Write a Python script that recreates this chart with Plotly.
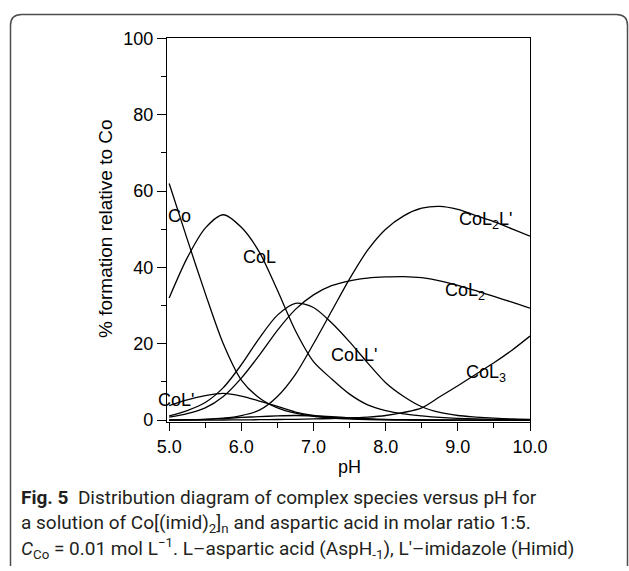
import plotly.graph_objects as go

pH = [5.0, 5.25, 5.5, 5.75, 6.0, 6.25, 6.5, 6.75, 7.0, 7.25, 7.5,
      7.75, 8.0, 8.25, 8.5, 8.75, 9.0, 9.25, 9.5, 9.75, 10.0]

Co = [62, 47.4, 33.2, 20, 10.5, 5.8, 3.2, 1.8, 1.0, 0.55, 0.3,
      0.15, 0.08, 0.04, 0.02, 0.01, 0, 0, 0, 0, 0]
CoL = [32, 42.5, 50.3, 53.8, 50.5, 44, 34, 23.4, 15.3, 10.8, 6.8,
       4.0, 2.5, 1.6, 1.1, 0.7, 0.45, 0.3, 0.2, 0.12, 0.08]
CoL_p = [3.8, 5.3, 6.4, 7.0, 6.3, 5.0, 3.6, 2.1, 1.2, 0.7, 0.4,
         0.2, 0.1, 0.05, 0.02, 0.01, 0, 0, 0, 0, 0]
CoLL_p = [1.1, 2.5, 4.6, 8.5, 14.5, 21.5, 27.5, 30.6, 29.5, 25.5, 20.5,
          15, 9.8, 6.2, 3.5, 2.0, 1.2, 0.8, 0.5, 0.3, 0.2]
CoL2 = [0.8, 1.7, 3.2, 6.2, 11, 17, 23.5, 29, 32.8, 35.2, 36.5,
        37.2, 37.5, 37.6, 37.3, 36.5, 35.3, 33.9, 32.4, 30.9, 29.3]
CoL2L_p = [0.05, 0.1, 0.2, 0.5, 1.2, 2.6, 6.2, 12, 20, 28.5, 37,
           44.5, 50, 53.5, 55.5, 56, 55.2, 53.6, 52, 50.1, 48.2]
CoL3 = [0, 0, 0, 0.02, 0.05, 0.1, 0.15, 0.2, 0.3, 0.4, 0.6,
        0.8, 1.2, 2.0, 3.2, 6.1, 9.0, 12.0, 15.0, 18.3, 22]
minor = [0, 0.05, 0.2, 0.4, 0.7, 0.9, 1.1, 1.2, 1.1, 0.9, 0.6,
         0.35, 0.2, 0.1, 0.05, 0.02, 0, 0, 0, 0, 0]

series = [Co, CoL, CoL_p, CoLL_p, CoL2, CoL2L_p, CoL3, minor]

labels = ["Co", "CoL", "CoL'", "CoLL'", "CoL<sub>2</sub>L'", "CoL<sub>2</sub>", "CoL<sub>3</sub>"]
label_x = [5.148, 6.256, 5.10, 7.558, 9.386, 9.096, 9.386]
label_y = [53.4, 42.7, 5.24, 17.15, 52.4, 33.8, 12.3]

x_ticks = [5.0, 6.0, 7.0, 8.0, 9.0, 10.0]
x_ticklabels = ["5.0", "6.0", "7.0", "8.0", "9.0", "10.0"]
y_ticks = [0, 20, 40, 60, 80, 100]

W, H = 629, 571
L, R, T, B = 167, 530, 38, 422  # plot area pixel box


def px(xp):
    return (xp - L) / (R - L)


def py(yp):
    return (B - yp) / (B - T)


fig = go.Figure()
for s in series:
    fig.add_trace(go.Scatter(x=pH, y=s, mode="lines",
                             line=dict(color="black", width=1.3, shape="spline", smoothing=0.8),
                             showlegend=False, hoverinfo="skip"))

font_main = "Liberation Sans, Arial, sans-serif"
annotations = []
for t, lx, ly in zip(labels, label_x, label_y):
    annotations.append(dict(x=lx, y=ly, xref="x", yref="y", text=t, showarrow=False,
                            font=dict(family=font_main, size=18, color="black"),
                            xanchor="center", yanchor="middle"))

annotations.append(dict(x=px(105), y=py(229), xref="paper", yref="paper",
                        text="% formation relative to Co", textangle=-90, showarrow=False,
                        font=dict(family=font_main, size=19, color="black"),
                        xanchor="center", yanchor="middle"))
annotations.append(dict(x=px(349), y=py(467), xref="paper", yref="paper",
                        text="pH", showarrow=False,
                        font=dict(family=font_main, size=18, color="black"),
                        xanchor="center", yanchor="middle"))

cap_font = dict(family="Roboto, sans-serif", size=19, color="#231f20")
cap_lines = [
    "<b>Fig. 5</b>  Distribution diagram of complex species versus pH for",
    "a solution of Co[(imid)<sub>2</sub>]<sub>n</sub> and aspartic acid in molar ratio 1:5.",
    "<i>C</i><sub>Co</sub> = 0.01 mol L<sup>−1</sup>. L–aspartic acid (AspH<sub>-1</sub>), L′–imidazole (Himid)",
]
cap_y = [497, 523, 548]
for t, cy in zip(cap_lines, cap_y):
    annotations.append(dict(x=px(19), y=py(cy), xref="paper", yref="paper", text=t,
                            showarrow=False, font=cap_font, xanchor="left", yanchor="middle"))

# rounded frame around the figure (left, top, right edges)
x0, x1, y0, y1, r = px(10.5), px(627.5), py(14.5), py(566), 11
rx = r / (R - L)
ry = r / (B - T)
frame_path = (f"M {x0} {y1} L {x0} {y0 - ry} Q {x0} {y0} {x0 + rx} {y0} "
              f"L {x1 - rx} {y0} Q {x1} {y0} {x1} {y0 - ry} L {x1} {y1}")

fig.update_layout(
    width=W, height=H,
    margin=dict(l=L, r=W - R, t=T, b=H - B),
    plot_bgcolor="white", paper_bgcolor="white",
    annotations=annotations,
    shapes=[dict(type="path", path=frame_path, xref="paper", yref="paper",
                 line=dict(color="#4d4d4d", width=1.5))],
    xaxis=dict(range=[4.97, 10.0], tickvals=x_ticks, ticktext=x_ticklabels,
               showline=True, linecolor="black", linewidth=1.3, mirror=True,
               ticks="outside", ticklen=8, tickwidth=1.3, tickcolor="black",
               minor=dict(dtick=0.5, tick0=5.0, ticklen=5, tickwidth=1.3, tickcolor="black", ticks="outside"),
               showgrid=False, zeroline=False,
               tickfont=dict(family=font_main, size=18, color="black")),
    yaxis=dict(range=[-0.5, 100.1], tickvals=y_ticks,
               showline=True, linecolor="black", linewidth=1.3, mirror=True,
               ticks="outside", ticklen=9, tickwidth=1.3, tickcolor="black",
               minor=dict(dtick=10, tick0=0, ticklen=5, tickwidth=1.3, tickcolor="black", ticks="outside"),
               showgrid=False, zeroline=False,
               tickfont=dict(family=font_main, size=18, color="black")),
)

fig.write_html("out.html")
